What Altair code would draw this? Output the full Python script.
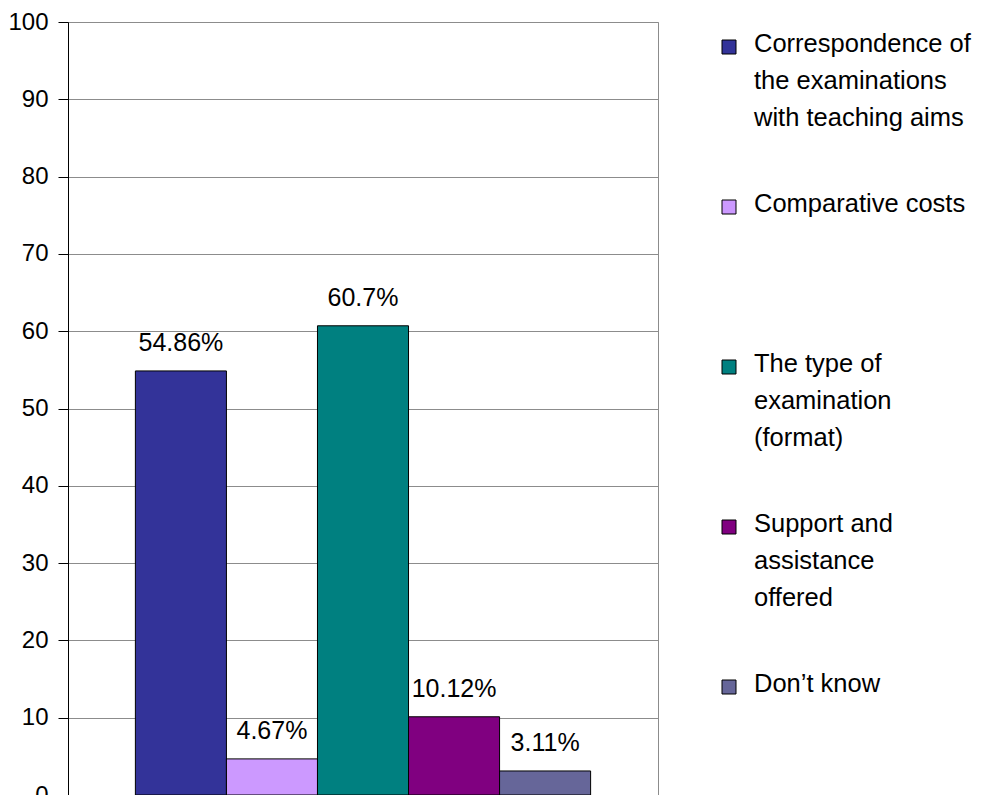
import altair as alt
import pandas as pd

categories = [
    "Correspondence of the examinations with teaching aims",
    "Comparative costs",
    "The type of examination (format)",
    "Support and assistance offered",
    "Don’t know",
]
legend_labels = [
    "Correspondence of\nthe examinations\nwith teaching aims",
    "Comparative costs",
    "The type of\nexamination\n(format)",
    "Support and\nassistance\noffered",
    "Don’t know",
]
values = [54.86, 4.67, 60.7, 10.12, 3.11]
value_labels = ["54.86%", "4.67%", "60.7%", "10.12%", "3.11%"]
colors = ["#333399", "#CC99FF", "#008080", "#800080", "#666699"]
y_ticks = list(range(0, 101, 10))

df = pd.DataFrame({
    "category": categories,
    "value": values,
    "label": value_labels,
    "legend": legend_labels,
})

FONT = "Liberation Sans"
color_scale = alt.Scale(domain=categories, range=colors)

x_enc = alt.X(
    "category:N", sort=categories,
    scale=alt.Scale(paddingInner=0, paddingOuter=0.74),
    axis=alt.Axis(labels=False, ticks=False, title=None, domainColor="#000000", grid=False),
)
y_scale = alt.Scale(domain=[0, 100], nice=False)
y_enc = alt.Y(
    "value:Q",
    scale=y_scale,
    axis=alt.Axis(
        values=y_ticks, title=None, grid=True, gridColor="#8c8c8c", gridWidth=1,
        domainColor="#000000", tickColor="#000000", tickSize=10, labelPadding=10,
        labelFont=FONT, labelFontSize=24, labelColor="#000000",
    ),
)
y_enc_noaxis = alt.Y("value:Q", scale=y_scale, axis=None)

bars = alt.Chart(df).mark_bar(stroke="black", strokeWidth=1, opacity=1).encode(
    x=x_enc, y=y_enc,
    color=alt.Color("category:N", scale=color_scale, legend=None),
)
labels = alt.Chart(df).mark_text(
    baseline="middle", dy=-28, fontSize=25, font=FONT, color="#000000"
).encode(x=x_enc, y=y_enc_noaxis, text="label:N")

y_leg = alt.Y(
    "category:N", sort=categories,
    scale=alt.Scale(type="point", range=[25, 665], padding=0),
    axis=None,
)
legend_sq = alt.Chart(df).mark_square(
    size=196, stroke="black", strokeWidth=1, opacity=1
).encode(
    x=alt.value(661), y=y_leg,
    color=alt.Color("category:N", scale=color_scale, legend=None),
)
legend_tx = alt.Chart(df).mark_text(
    align="left", baseline="top", dy=-15, lineBreak="\n", lineHeight=37,
    fontSize=25.5, font=FONT, color="#000000",
).encode(x=alt.value(686), y=y_leg, text="legend:N")

chart = alt.layer(bars, labels, legend_sq, legend_tx).resolve_scale(
    y="independent"
).properties(
    width=590, height=773,
    autosize=alt.AutoSizeParams(type="none"),
    padding={"left": 60, "top": 14, "right": 315, "bottom": 0},
    background="white",
).configure_view(stroke="#8c8c8c")

chart.save("out.html", embed_options={"renderer": "svg", "actions": False})
